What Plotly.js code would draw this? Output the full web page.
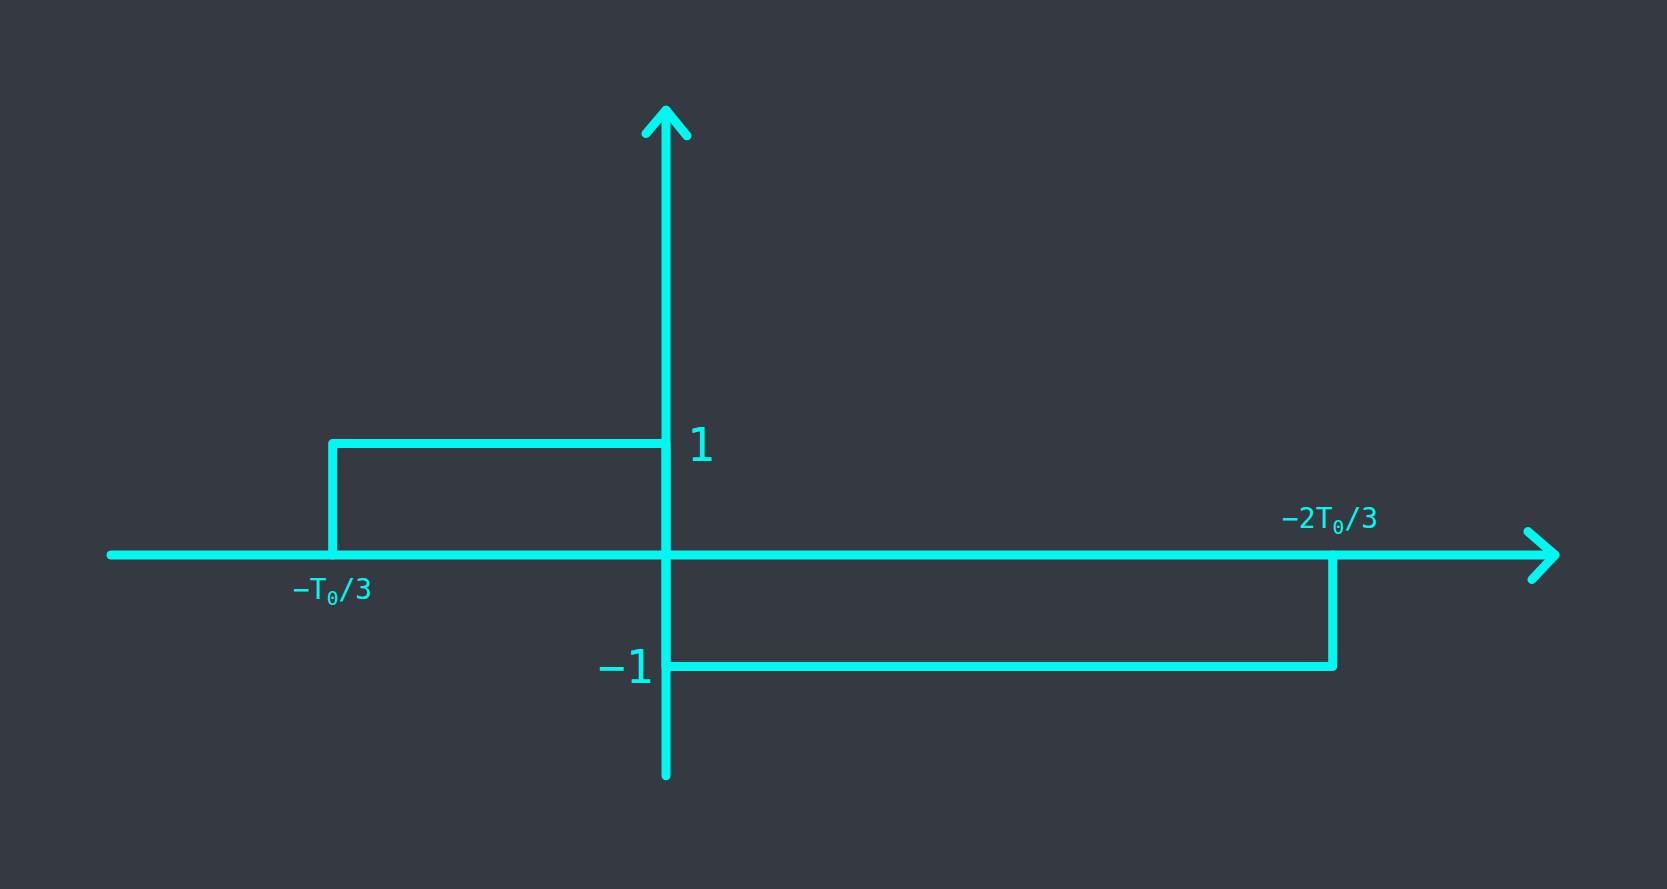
<!DOCTYPE html>
<html>
<head>
<meta charset="utf-8">
<script src="https://cdn.plot.ly/plotly-3.0.1.min.js"></script>
<style>
html,body{margin:0;padding:0;background:#353a42;overflow:hidden;}
#chart{width:1667px;height:889px;}
.js-line{stroke-linecap:round !important;stroke-linejoin:round !important;}
</style>
</head>
<body>
<div id="chart"></div>
<script>
// Signal x(t), t in units of T0
var signalT = [-1/3, -1/3, 0, 0, 2/3, 2/3];
var signalX = [0, 1, 1, -1, -1, 0];
// Axis extents
var tAxisT = [-0.555, 0.889];
var tAxisY = [0, 0];
var yAxisT = [0, 0];
var yAxisY = [-1.98, 3.99];
// Arrowheads (open chevrons)
var tArrowT = [0.862, 0.889, 0.866];
var tArrowY = [0.21, 0, -0.22];
var yArrowT = [-0.020, 0, 0.021];
var yArrowY = [3.78, 3.99, 3.76];
// Labels
var labelText = ['1', '\u22121', '\u2212T<sub>0</sub>/3', '\u22122T<sub>0</sub>/3'];
var labelT = [0, 0, -1/3, 2/3];
var labelY = [1, -1, 0, 0];

var cyan = '#00f8f0';
var lw = 9;
function seg(x, y) {
  return {x: x, y: y, type: 'scatter', mode: 'lines', hoverinfo: 'skip',
          line: {color: cyan, width: lw}, showlegend: false};
}
var data = [seg(tAxisT, tAxisY), seg(yAxisT, yAxisY), seg(signalT, signalX),
            seg(tArrowT, tArrowY), seg(yArrowT, yArrowY)];

var font = {family: 'DejaVu Sans Mono', color: cyan};
var annotations = [
  {x: labelT[0], y: labelY[0], text: labelText[0], xanchor: 'left', yanchor: 'middle', xshift: 19, yshift: -1, font: Object.assign({size: 46}, font)},
  {x: labelT[1], y: labelY[1], text: labelText[1], xanchor: 'right', yanchor: 'middle', xshift: -11, yshift: -1, font: Object.assign({size: 46}, font)},
  {x: labelT[2], y: labelY[2], text: labelText[2], xanchor: 'center', yanchor: 'top', xshift: 0, yshift: -16, font: Object.assign({size: 28}, font)},
  {x: labelT[3], y: labelY[3], text: labelText[3], xanchor: 'center', yanchor: 'bottom', xshift: -3, yshift: 14, font: Object.assign({size: 28}, font)}
].map(function(a){ a.showarrow = false; a.xref = 'x'; a.yref = 'y'; return a; });

var layout = {
  width: 1667, height: 889,
  margin: {l: 0, r: 0, t: 0, b: 0, pad: 0},
  paper_bgcolor: '#353a42', plot_bgcolor: '#353a42',
  xaxis: {range: [-0.666, 1.001], visible: false, fixedrange: true},
  yaxis: {range: [-2.996, 4.978], visible: false, fixedrange: true},
  annotations: annotations,
  showlegend: false
};
Plotly.newPlot('chart', data, layout, {displayModeBar: false, staticPlot: true});
</script>
</body>
</html>
